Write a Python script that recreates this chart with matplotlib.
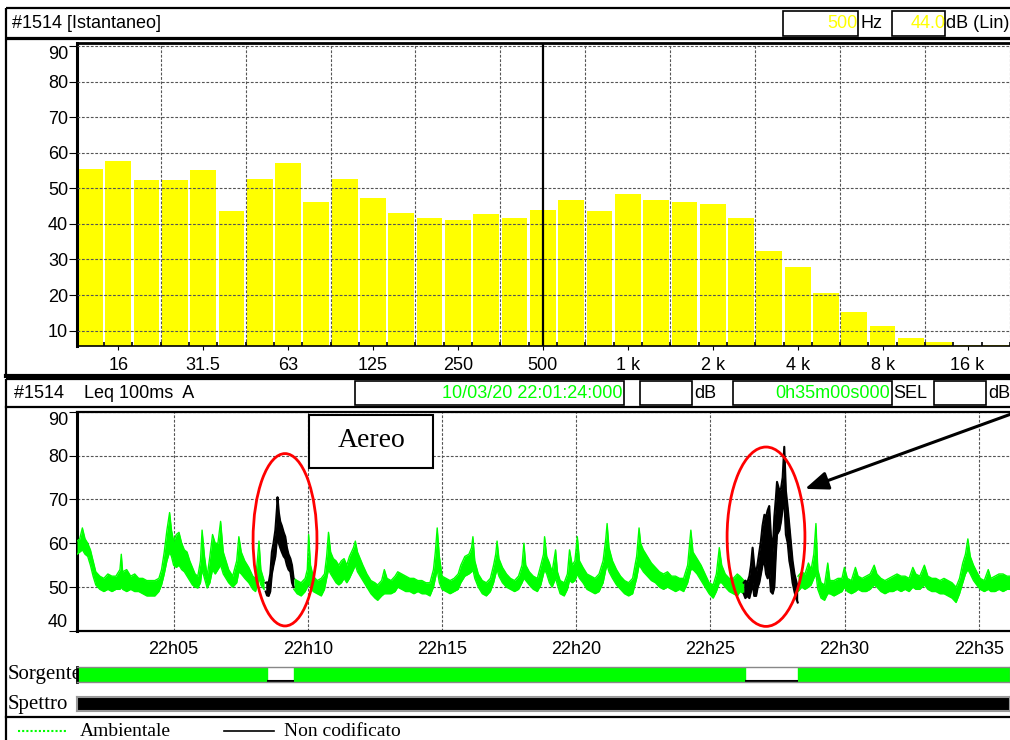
import numpy as np
import matplotlib
matplotlib.use("Agg")
import matplotlib.pyplot as plt
from matplotlib.patches import Rectangle, Ellipse

# ------------------------------------------------------------------ data
bands = ['12.5', '16', '20', '25', '31.5', '40', '50', '63', '80', '100', '125',
         '160', '200', '250', '315', '400', '500', '630', '800', '1 k', '1.25 k',
         '1.6 k', '2 k', '2.5 k', '3.15 k', '4 k', '5 k', '6.3 k', '8 k', '10 k',
         '12.5 k', '16 k', '20 k']
spectrum_db = [55.5, 57.8, 52.2, 52.2, 55.0, 43.5, 52.7, 57.0, 46.2, 52.7, 47.4,
               43.0, 41.7, 41.2, 42.9, 41.7, 44.0, 46.8, 43.7, 48.5, 46.8,
               46.2, 45.7, 41.7, 32.4, 27.9, 20.5, 15.3, 11.3, 7.9,
               6.8, 6.1, 6.1]
tick_bands = ['16', '31.5', '63', '125', '250', '500', '1 k', '2 k', '4 k', '8 k', '16 k']
cursor_band = '500'

# time axis: minutes after 22:01:24
start_label = '10/03/20 22:01:24:000'
time_ticks_min = [3.6, 8.6, 13.6, 18.6, 23.6, 28.6, 33.6]
time_tick_labels = ['22h05', '22h10', '22h15', '22h20', '22h25', '22h30', '22h35']

# Ambientale (green) envelope, rows = (minute, low dB, high dB)
amb_seg1 = [(0.00, 57.5, 60.5), (0.10, 58.0, 61.0), (0.20, 58.5, 63.5), (0.30, 57.5, 61.0),
            (0.40, 57.0, 60.0), (0.50, 55.0, 58.5), (0.60, 52.5, 56.0), (0.70, 50.5, 53.5),
            (0.85, 49.5, 52.5), (1.00, 49.0, 52.0), (1.15, 49.5, 53.0), (1.30, 49.0, 52.5),
            (1.45, 49.5, 52.5), (1.60, 49.5, 54.0), (1.65, 50.0, 57.5), (1.70, 49.5, 53.5),
            (1.85, 49.0, 54.0), (2.00, 49.5, 52.5), (2.15, 49.0, 53.0), (2.30, 49.0, 52.0),
            (2.45, 48.5, 52.0), (2.60, 48.0, 51.5), (2.75, 48.0, 51.5), (2.90, 48.0, 51.5),
            (3.05, 49.0, 52.0), (3.15, 50.5, 54.0), (3.25, 53.0, 58.0), (3.35, 56.0, 63.0),
            (3.45, 58.0, 67.0), (3.52, 57.0, 63.0), (3.60, 55.0, 60.5), (3.70, 54.5, 62.0),
            (3.80, 55.0, 62.5), (3.90, 54.0, 60.0), (4.00, 53.5, 58.5), (4.10, 52.5, 58.0),
            (4.20, 51.5, 56.0), (4.30, 50.5, 54.5), (4.40, 50.0, 53.0), (4.50, 49.8, 52.5),
            (4.60, 51.0, 56.0), (4.66, 54.0, 63.0), (4.75, 52.0, 57.0), (4.85, 49.8, 52.5),
            (4.95, 51.0, 57.0), (5.05, 54.0, 62.0), (5.15, 53.0, 60.0), (5.25, 54.0, 60.0),
            (5.35, 55.0, 65.0), (5.45, 53.0, 58.0), (5.55, 52.0, 56.0), (5.65, 51.0, 54.0),
            (5.80, 50.0, 52.5), (5.95, 51.0, 56.0), (6.03, 53.5, 61.5), (6.12, 53.0, 58.0),
            (6.25, 52.0, 56.0), (6.40, 51.0, 54.5), (6.55, 49.5, 52.5), (6.65, 49.0, 52.0),
            (6.72, 50.5, 56.0), (6.78, 52.0, 60.5), (6.85, 50.5, 54.0), (6.97, 49.5, 51.5)]
amb_seg2 = [(8.08, 49.5, 52.0), (8.20, 48.5, 51.5), (8.35, 48.0, 51.0), (8.50, 49.0, 52.0),
            (8.58, 50.0, 54.0), (8.63, 51.0, 62.0), (8.70, 50.0, 55.0), (8.80, 49.0, 52.5),
            (8.95, 48.5, 51.5), (9.10, 48.0, 52.0), (9.22, 49.5, 53.0), (9.30, 52.0, 57.0),
            (9.37, 54.0, 62.5), (9.45, 53.0, 58.0), (9.55, 52.0, 56.5), (9.65, 51.0, 56.0),
            (9.75, 50.5, 55.0), (9.85, 51.0, 56.0), (9.95, 52.0, 56.5), (10.05, 51.0, 55.0),
            (10.15, 52.0, 57.0), (10.30, 54.0, 59.0), (10.37, 55.0, 60.5), (10.45, 53.5, 58.0),
            (10.55, 52.5, 56.5), (10.65, 51.5, 55.0), (10.80, 50.0, 53.0), (10.95, 48.5, 51.5),
            (11.10, 47.5, 51.0), (11.20, 47.0, 50.5), (11.35, 48.0, 51.5), (11.45, 48.5, 54.0),
            (11.55, 48.5, 52.0), (11.70, 48.5, 51.5), (11.85, 49.0, 52.5), (11.95, 50.0, 53.5),
            (12.10, 49.5, 53.0), (12.25, 49.0, 52.5), (12.40, 49.0, 52.0), (12.55, 48.5, 52.0),
            (12.70, 49.0, 51.5), (12.85, 48.5, 51.5), (13.00, 48.5, 51.0), (13.15, 48.0, 51.0),
            (13.28, 50.0, 54.0), (13.35, 52.0, 58.0), (13.42, 54.0, 63.5), (13.50, 51.0, 57.0),
            (13.60, 49.5, 52.5), (13.75, 49.0, 52.0), (13.90, 48.5, 51.5), (14.05, 49.0, 52.0),
            (14.20, 49.5, 53.0), (14.30, 51.0, 55.0), (14.45, 52.5, 57.0), (14.60, 53.0, 57.5),
            (14.70, 53.5, 59.0), (14.75, 54.0, 61.5), (14.82, 52.0, 56.0), (14.95, 50.0, 53.0),
            (15.10, 48.5, 51.5), (15.25, 48.0, 51.0), (15.40, 49.0, 52.0), (15.52, 51.0, 55.0),
            (15.60, 53.0, 57.5), (15.65, 54.0, 60.5), (15.72, 52.5, 56.5), (15.85, 51.0, 54.5),
            (16.00, 50.0, 53.0), (16.15, 49.5, 52.0), (16.30, 49.0, 51.5), (16.45, 49.5, 52.5),
            (16.58, 51.0, 55.0), (16.65, 52.0, 60.0), (16.72, 51.5, 55.0), (16.85, 50.5, 53.5),
            (17.00, 49.5, 52.5), (17.15, 49.0, 52.0), (17.28, 50.5, 55.0), (17.38, 53.0, 57.5),
            (17.42, 54.0, 61.5), (17.50, 53.0, 57.0), (17.60, 51.0, 55.5), (17.70, 50.0, 53.5),
            (17.83, 52.0, 58.5), (17.90, 50.5, 53.5), (18.00, 48.5, 51.5), (18.15, 48.0, 51.0),
            (18.27, 49.5, 53.0), (18.35, 51.5, 58.5), (18.45, 51.0, 55.0), (18.55, 51.5, 56.0),
            (18.64, 53.0, 61.5), (18.72, 52.0, 56.0), (18.85, 51.0, 54.5), (19.00, 49.5, 53.0),
            (19.15, 49.0, 52.5), (19.30, 48.5, 52.0), (19.45, 49.0, 53.0), (19.60, 51.0, 56.0),
            (19.70, 54.0, 61.0), (19.75, 55.0, 64.5), (19.82, 53.5, 59.0), (19.95, 52.0, 56.0),
            (20.10, 50.5, 54.0), (20.25, 49.5, 52.5), (20.40, 48.5, 51.5), (20.55, 48.0, 51.0),
            (20.70, 48.5, 52.0), (20.85, 52.0, 57.0), (20.94, 55.0, 63.5), (21.00, 54.5, 60.0),
            (21.10, 53.5, 58.5), (21.25, 52.5, 57.0), (21.40, 51.5, 55.5), (21.55, 51.0, 54.5),
            (21.70, 50.0, 53.5), (21.85, 49.5, 53.0), (22.00, 50.0, 53.5), (22.15, 49.5, 52.5),
            (22.30, 49.0, 52.5), (22.45, 49.5, 52.0), (22.60, 49.0, 52.0), (22.75, 51.0, 55.0),
            (22.87, 54.0, 63.0), (22.95, 54.0, 58.0), (23.10, 53.0, 56.5), (23.25, 51.5, 55.0),
            (23.40, 50.0, 53.0), (23.55, 48.5, 51.0), (23.70, 47.5, 50.5), (23.82, 49.0, 53.0),
            (23.93, 51.0, 59.0), (24.02, 51.0, 55.0), (24.15, 50.0, 53.0), (24.30, 49.0, 52.0),
            (24.45, 48.5, 52.0), (24.60, 48.0, 53.0), (24.70, 49.0, 52.5), (24.85, 48.5, 51.5)]
amb_seg3 = [(26.86, 49.0, 52.5), (27.00, 50.0, 53.5), (27.12, 49.5, 53.0), (27.25, 50.0, 55.5),
            (27.35, 50.5, 54.0), (27.45, 52.0, 57.5), (27.53, 53.0, 64.5), (27.60, 49.5, 54.0),
            (27.72, 47.5, 51.0), (27.85, 47.0, 50.5), (27.97, 48.5, 55.5), (28.05, 48.5, 51.5),
            (28.20, 48.0, 51.5), (28.35, 48.5, 52.0), (28.50, 49.0, 52.0), (28.59, 50.0, 54.5),
            (28.70, 49.0, 52.0), (28.85, 48.5, 51.5), (29.00, 49.0, 54.5), (29.10, 49.5, 52.5),
            (29.25, 49.0, 52.0), (29.40, 49.0, 52.5), (29.55, 49.5, 53.0), (29.70, 50.5, 55.0),
            (29.80, 50.0, 53.0), (29.95, 49.0, 52.0), (30.10, 48.5, 51.5), (30.25, 49.0, 52.0),
            (30.40, 49.0, 52.5), (30.55, 49.5, 53.0), (30.70, 49.0, 52.5), (30.85, 49.5, 52.5),
            (31.00, 49.0, 52.0), (31.14, 50.0, 54.5), (31.25, 49.5, 53.0), (31.40, 49.5, 52.5),
            (31.57, 50.5, 55.0), (31.70, 49.5, 52.5), (31.85, 49.0, 52.0), (32.00, 49.0, 52.0),
            (32.15, 48.5, 51.5), (32.30, 48.5, 52.0), (32.45, 48.0, 51.5), (32.60, 47.5, 51.0),
            (32.75, 46.5, 50.0), (32.88, 48.5, 52.0), (33.00, 51.0, 55.5), (33.10, 53.0, 57.5),
            (33.19, 54.0, 61.0), (33.28, 53.0, 57.0), (33.40, 51.5, 55.0), (33.52, 50.5, 53.5),
            (33.65, 49.5, 52.0), (33.80, 49.0, 51.5), (33.95, 49.5, 54.0), (34.05, 49.0, 52.0),
            (34.20, 49.0, 52.5), (34.35, 49.5, 53.0), (34.50, 49.0, 53.0), (34.65, 49.5, 52.5),
            (34.82, 49.5, 52.5)]

# Non codificato (black) envelope, rows = (minute, low dB, high dB)
nc_event1 = [(7.03, 49.0, 51.0), (7.08, 48.1, 51.1), (7.14, 48.0, 51.0), (7.20, 49.0, 53.0),
             (7.26, 53.0, 58.0), (7.32, 55.0, 60.0), (7.39, 57.0, 63.0), (7.45, 61.0, 68.0),
             (7.47, 63.0, 70.5), (7.52, 60.0, 67.0), (7.57, 59.0, 65.0), (7.63, 58.0, 64.0),
             (7.70, 57.0, 62.5), (7.76, 56.5, 61.5), (7.82, 55.0, 59.0), (7.88, 54.0, 57.5),
             (7.95, 53.5, 56.5), (8.01, 51.0, 55.0), (8.07, 50.0, 52.0)]
nc_event2 = [(24.84, 48.5, 51.0), (24.90, 47.5, 51.5), (24.97, 48.0, 51.0), (25.05, 47.5, 52.5),
             (25.11, 49.0, 55.0), (25.17, 51.0, 59.0), (25.23, 48.0, 55.0), (25.30, 48.0, 53.0),
             (25.36, 50.0, 55.5), (25.42, 51.0, 58.0), (25.48, 53.0, 60.5), (25.54, 55.0, 64.0),
             (25.61, 56.0, 66.5), (25.67, 53.0, 66.0), (25.73, 52.0, 67.5), (25.79, 54.0, 68.5),
             (25.85, 49.0, 62.0), (25.92, 48.5, 58.0), (25.98, 50.0, 66.0), (26.04, 58.0, 70.5),
             (26.08, 62.0, 74.0), (26.17, 63.0, 72.0), (26.23, 65.0, 72.5), (26.29, 68.0, 75.0),
             (26.35, 70.0, 82.0), (26.41, 62.0, 72.0), (26.48, 60.0, 68.0), (26.54, 56.0, 64.0),
             (26.60, 54.0, 60.0), (26.66, 51.0, 56.0), (26.73, 49.0, 53.0), (26.79, 47.5, 51.5),
             (26.85, 46.5, 50.0)]

# "Sorgente" coding strip: event intervals (minutes)
event_start = [7.08, 24.87]
event_end = [8.07, 26.86]
record_len = 34.76   # visible part of the 35 min record

# ------------------------------------------------------------------ style
GREEN = '#00FF00'
YELLOW = '#FFFF00'
GRID = dict(color='#555555', linestyle=(0, (2.5, 1.5)), linewidth=0.8)
SANS = 'Liberation Sans'
SERIF = 'Liberation Serif'
FS = 13
plt.rcParams['font.family'] = [SANS, 'DejaVu Sans']

W, H = 1010, 740
fig = plt.figure(figsize=(W / 100, H / 100), dpi=100)


def px_axes(x0, y0, x1, y1, **kw):
    return fig.add_axes([x0 / W, 1 - y1 / H, (x1 - x0) / W, (y1 - y0) / H], **kw)


# decoration layer in pixel coordinates
deco = px_axes(0, 0, W, H, zorder=0)
deco.set_xlim(0, W)
deco.set_ylim(H, 0)
deco.axis('off')

# top header
deco.add_patch(Rectangle((6, 8), 1010, 30, fill=False, lw=1.6, ec='black'))
deco.text(12, 24, '#1514 [Istantaneo]', fontsize=FS, va='center')
deco.add_patch(Rectangle((783, 11), 75, 25, fill=False, lw=1.2, ec='black'))
deco.text(858, 24, cursor_band, fontsize=FS, va='center', ha='right', color=YELLOW)
deco.text(860, 24, 'Hz', fontsize=FS, va='center')
deco.add_patch(Rectangle((892, 11), 53, 25, fill=False, lw=1.2, ec='black'))
deco.text(946, 24, '%.1f' % spectrum_db[bands.index(cursor_band)], fontsize=FS,
          va='center', ha='right', color=YELLOW)
deco.text(946, 24, 'dB (Lin)', fontsize=FS, va='center')
# top panel frame
deco.add_patch(Rectangle((6, 39), 1010, 337, fill=False, lw=1.6, ec='black'))
deco.plot([6, 1010], [376, 376], color='black', lw=3)
# middle header
deco.add_patch(Rectangle((6, 379), 1010, 28, fill=False, lw=1.6, ec='black'))
deco.text(14, 394, '#1514    Leq 100ms  A', fontsize=FS, va='center')
deco.add_patch(Rectangle((355, 381), 269, 24, fill=False, lw=1.2, ec='black'))
deco.text(622, 394, start_label, fontsize=FS, va='center', ha='right', color=GREEN)
deco.add_patch(Rectangle((640, 381), 52, 24, fill=False, lw=1.2, ec='black'))
deco.text(694, 394, 'dB', fontsize=FS, va='center')
deco.add_patch(Rectangle((733, 381), 159, 24, fill=False, lw=1.2, ec='black'))
deco.text(890, 394, '0h35m00s000', fontsize=FS, va='center', ha='right', color=GREEN)
deco.text(893, 394, 'SEL', fontsize=FS, va='center')
deco.add_patch(Rectangle((934, 381), 52, 24, fill=False, lw=1.2, ec='black'))
deco.text(988, 394, 'dB', fontsize=FS, va='center')
# lower frame
deco.plot([6, 6], [407, 740], color='black', lw=1.6)
deco.plot([6, 1010], [717, 717], color='black', lw=1.6)
deco.text(8, 675, 'Sorgente', family=SERIF, fontsize=15, va='center')
deco.text(8, 704, 'Spettro', family=SERIF, fontsize=15, va='center')
# legend
deco.plot([18, 68], [731, 731], color=GREEN, lw=1.5, linestyle=(0, (1, 1)))
deco.text(80, 731, 'Ambientale', family=SERIF, fontsize=14, va='center')
deco.plot([224, 274], [731, 731], color='black', lw=1.2)
deco.text(284, 731, 'Non codificato', family=SERIF, fontsize=14, va='center')

# ------------------------------------------------------------------ spectrum
ax1 = px_axes(77, 42.7, 1010, 346, zorder=1)
idx = np.arange(len(bands))
ax1.bar(idx, spectrum_db, width=0.91, color=YELLOW, edgecolor='none', zorder=1)
ax1.set_xlim(-0.455, 32.19)
ax1.set_ylim(5.7, 90.9)
ax1.set_yticks(range(10, 91, 10))
ax1.set_axisbelow(False)
ax1.yaxis.grid(True, **GRID)
for gx in np.arange(2.5, len(bands), 3):
    ax1.axvline(gx, zorder=2.5, **GRID)
ax1.axvline(bands.index(cursor_band), color='black', lw=1.6, zorder=3)
ax1.set_xticks([bands.index(b) for b in tick_bands])
ax1.set_xticklabels(tick_bands)
ax1.set_xticks(np.arange(0.5, len(bands), 1), minor=True)
ax1.tick_params(axis='x', which='major', direction='out', length=3, pad=5, labelsize=FS)
ax1.tick_params(axis='x', which='minor', direction='in', length=3, width=1.2)
ax1.tick_params(axis='y', direction='out', length=6, pad=0.5, labelsize=FS)
ax1.yaxis.get_major_ticks()[-1].label1.set_verticalalignment('top')
for s, lw in (('left', 2.2), ('top', 2.0), ('bottom', 1.2)):
    ax1.spines[s].set_linewidth(lw)
ax1.spines['right'].set_visible(False)

# ------------------------------------------------------------------ time history
ax2 = px_axes(77, 411.7, 1010, 631, zorder=1)
ax2.set_xlim(0, record_len)
ax2.set_ylim(40, 90)
ax2.set_yticks(range(40, 91, 10))
ax2.set_xticks(time_ticks_min)
ax2.set_xticklabels(time_tick_labels)
ax2.grid(True, **GRID)
ax2.tick_params(axis='x', length=0, pad=7, labelsize=FS)
ax2.tick_params(axis='y', direction='out', length=6, pad=0.5, labelsize=FS)
yt = ax2.yaxis.get_major_ticks()
yt[-1].label1.set_verticalalignment('top')
yt[0].label1.set_verticalalignment('bottom')
for s, lw in (('left', 2.2), ('top', 1.6), ('bottom', 1.6)):
    ax2.spines[s].set_linewidth(lw)
ax2.spines['right'].set_visible(False)

for seg in (amb_seg1, amb_seg2, amb_seg3):
    a = np.array(seg)
    ax2.fill_between(a[:, 0], a[:, 1], a[:, 2], color=GREEN, lw=0, zorder=3)
    ax2.plot(a[:, 0], a[:, 2], color=GREEN, lw=1.0, zorder=3)
    ax2.plot(a[:, 0], a[:, 1], color=GREEN, lw=1.0, zorder=3)
for seg in (nc_event1, nc_event2):
    a = np.array(seg)
    ax2.fill_between(a[:, 0], a[:, 1], a[:, 2], color='black', lw=0, zorder=4)
    ax2.plot(a[:, 0], a[:, 2], color='black', lw=1.5, zorder=4)
    ax2.plot(a[:, 0], a[:, 1], color='black', lw=1.5, zorder=4)

# annotations
ax2.add_patch(Ellipse((7.75, 60.8), 2.38, 39.3, fill=False, ec='#FF0000', lw=2, zorder=6))
ax2.add_patch(Ellipse((25.67, 61.5), 2.9, 40.9, fill=False, ec='#FF0000', lw=2, zorder=6))
ax2.add_patch(Rectangle((8.64, 77.2), 4.63, 12.1, fc='white', ec='black', lw=1.5, zorder=7))
ax2.text(10.96, 83.4, 'Aereo', family=SERIF, fontsize=20, ha='center', va='center', zorder=8)
ax2.annotate('', xy=(27.12, 72.4), xytext=(34.95, 89.8), annotation_clip=False,
             arrowprops=dict(arrowstyle='-|>,head_length=1.4,head_width=0.55',
                             color='black', lw=2.2, shrinkA=0, shrinkB=0), zorder=8)

# ------------------------------------------------------------------ coding strips
ax3 = px_axes(77, 667, 1010, 682, zorder=1)
ax3.set_xlim(0, record_len)
ax3.set_ylim(0, 1)
bounds = [0] + [v for pair in zip(event_start, event_end) for v in pair] + [record_len + 1]
green_spans = [(bounds[i], bounds[i + 1] - bounds[i]) for i in range(0, len(bounds), 2)]
ax3.broken_barh(green_spans, (0, 1), color=GREEN)
ax3.hlines([0.06] * len(event_start), event_start, event_end, color='black', lw=1.5)
ax3.set_xticks([])
ax3.set_yticks([])
for s in ax3.spines.values():
    s.set_color('#888888')
    s.set_linewidth(1)
ax3.spines['left'].set_color('black')
ax3.spines['left'].set_linewidth(2)

ax4 = px_axes(77, 697, 1010, 711, zorder=1)
ax4.set_facecolor('black')
ax4.set_xticks([])
ax4.set_yticks([])
for s in ax4.spines.values():
    s.set_color('#999999')
    s.set_linewidth(1.5)

fig.savefig('out.png', dpi=100)
